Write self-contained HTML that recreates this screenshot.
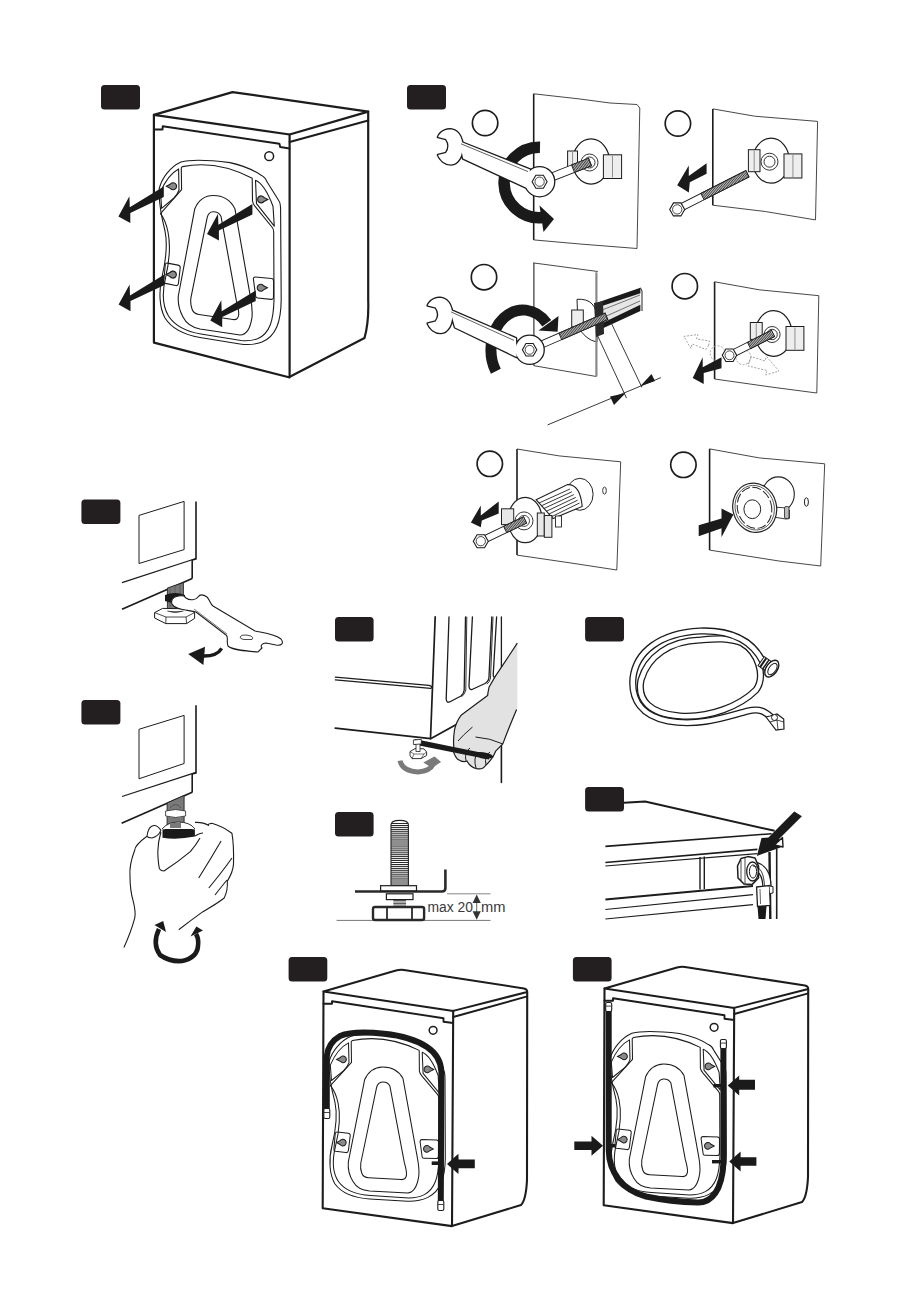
<!DOCTYPE html><html><head><meta charset="utf-8"><style>html,body{margin:0;padding:0;background:#fff;}svg{display:block}</style></head><body>
<svg width="907" height="1304" viewBox="0 0 907 1304" font-family="Liberation Sans, sans-serif">
<rect width="907" height="1304" fill="#fff"/>
<rect x="101" y="85" width="39" height="24.5" rx="3.5" fill="#231f20"/>
<g fill="none" stroke="#1c1c1c" stroke-linejoin="round" stroke-linecap="round"><path d="M153.9,114.9 L232.5,92.1 L368.2,111.6 L289.6,134.5 Z" stroke-width="2.2" fill="#fff"/><path d="M153.9,114.9 L153.9,342.6 L288.9,377.3 L364.5,338 Q369,322 368.2,300 L368.2,111.6" stroke-width="2.2"/><path d="M289.6,134.5 L289.6,377.3" stroke-width="2.2"/><path d="M153.9,129.4 L162.5,129.4 L162.8,126.2 L279.4,143.8 L280.2,147.1 L289.6,148.4" stroke-width="2"/><path d="M289.6,142 L368.2,120.5" stroke-width="2"/><circle cx="269.2" cy="156.2" r="4.4" stroke-width="1.5"/></g>
<g fill="none" stroke="#1c1c1c" stroke-linejoin="round">
<path d="M159.3,188.2 C162.0,178.0 170.0,167.0 181.0,162.0 C190.0,159.5 205.0,159.5 230.0,162.6 C245.0,166.0 255.0,171.0 261.1,175.2 C265.0,177.0 266.0,179.0 267.0,181.8 L279.0,201.0 C280.5,203.0 280.6,206.0 280.6,210.0 L281.2,299.4 C281.0,322.0 276.0,336.0 262.0,342.0 C254.0,345.0 247.0,345.0 240.0,344.0 L200.0,337.5 C183.0,334.5 172.0,329.0 165.0,318.0 C159.5,308.0 158.5,292.0 162.0,277.0 C166.0,260.0 168.0,246.0 165.0,231.0 C161.0,215.0 158.5,200.0 159.3,188.2 Z" stroke-width="1.10"/>
<path d="M182.4,166.6 C200.0,163.0 225.0,164.0 252.2,178.2 L252.5,201.0 C253.0,204.0 254.0,205.0 255.1,206.3 L272.3,227.5 C273.5,229.0 273.7,230.0 273.7,232.0 L274.0,300.0 C273.5,320.0 270.0,333.0 258.0,338.5 C252.0,341.0 246.0,341.0 241.0,340.5 L201.0,334.0 C186.0,331.5 175.0,326.0 168.5,316.0 C163.0,307.0 162.0,293.0 165.5,278.0 C169.5,261.0 171.0,247.0 168.0,232.0 C166.0,222.0 163.0,217.0 160.5,213.7 L181.6,189.7 L181.3,167.7 Z" stroke-width="1.10"/>
<path d="M178.6,168.9 L179.0,190.0 C178.0,193.0 176.0,196.0 174.0,198.0 L161.6,208.3 L160.5,192.0 C165.0,181.0 171.0,173.0 178.6,168.9 Z" stroke-width="1.10"/>
<path d="M255.5,180.2 C262.0,183.0 267.0,190.0 273.0,206.3 L274.3,226.2 L256.5,203.7 Z" stroke-width="1.10"/>
<path d="M167.4,263.1 L178.1,265.1 C179.8,265.4 180.4,266.5 180.2,268.0 L178.4,283.5 C178.1,285.2 177.0,285.8 175.8,285.5 L165.5,283.4 C164.2,283.1 163.8,282.0 163.9,281.0 L165.2,265.0 C165.4,263.5 166.2,262.9 167.4,263.1 Z" stroke-width="1.10"/>
<path d="M255.4,277.0 L271.5,278.5 C273.0,278.6 273.6,279.5 273.6,281.0 L273.5,297.0 C273.5,298.8 272.6,299.5 271.2,299.4 L257.6,298.0 C256.2,297.9 255.6,297.0 255.6,295.8 L253.4,279.2 C253.3,277.8 254.0,276.9 255.4,277.0 Z" stroke-width="1.10"/>
<path d="M194.8,208.7 C199.0,199.0 206.0,195.5 213.3,195.5 C221.0,195.5 230.0,199.0 234.9,208.7 L250.3,296.3 C252.0,305.0 252.5,313.0 251.9,317.9 C250.0,330.0 246.0,335.0 240.0,335.0 L200.0,329.0 C192.0,327.5 186.0,323.0 183.0,317.0 C178.5,309.0 177.8,303.0 178.3,296.0 Z" stroke-width="1.10"/>
<path d="M207.1,217.9 C208.0,213.5 210.5,211.7 213.3,211.7 C216.5,211.7 219.5,213.0 221.0,216.4 L236.4,300.9 C238.0,307.0 239.0,311.0 238.7,314.8 C238.3,318.5 236.5,320.0 233.0,319.5 L199.0,314.5 C195.0,314.0 193.0,312.0 192.0,309.0 C190.5,305.0 190.5,301.0 190.9,297.8 Z" stroke-width="1.10"/>
</g>
<path d="M166.4,186.3 L170.2,184.3 A3.50,3.50 0 1 1 170.2,188.3 Z" fill="#8a8a8a" stroke="#1c1c1c" stroke-width="1.10"/>
<path d="M267.8,199.4 L264.0,197.4 A3.50,3.50 0 1 0 264.0,201.4 Z" fill="#8a8a8a" stroke="#1c1c1c" stroke-width="1.10"/>
<path d="M166.2,274.6 L170.0,272.6 A3.50,3.50 0 1 1 170.0,276.6 Z" fill="#8a8a8a" stroke="#1c1c1c" stroke-width="1.10"/>
<path d="M267.4,287.8 L263.6,285.8 A3.50,3.50 0 1 0 263.6,289.8 Z" fill="#8a8a8a" stroke="#1c1c1c" stroke-width="1.10"/>
<polygon points="163.8,186.5 163.8,197.0 130.3,212.9 130.3,223.1 118.4,216.4 129.4,196.2 129.8,207.2" fill="#1a1a1a"/>
<polygon points="164.0,274.7 164.0,285.2 130.5,301.1 130.5,311.3 118.6,304.6 129.6,284.4 130.0,295.4" fill="#1a1a1a"/>
<polygon points="252.4,204.0 252.4,214.5 218.9,230.4 218.9,240.6 207.0,233.9 218.0,213.7 218.4,224.7" fill="#1a1a1a"/>
<polygon points="255.7,290.6 255.7,301.1 222.2,317.0 222.2,327.2 210.3,320.5 221.3,300.3 221.7,311.3" fill="#1a1a1a"/>
<rect x="407" y="85" width="39" height="24.5" rx="3.5" fill="#231f20"/>
<circle cx="485.1" cy="123" r="12.7" fill="none" stroke="#1c1c1c" stroke-width="1.7"/>
<path d="M533.7,93.8 L533.7,239.9" stroke="#1c1c1c" stroke-width="1.6" fill="none"/>
<path d="M533.7,93.8 L580,99 L610,103 L637,104.5 L639.8,108 L637,248.5" stroke="#333" stroke-width="0.9" fill="none" stroke-linejoin="round"/>
<path d="M533.7,239.9 L580,244 L637,248.5" stroke="#333" stroke-width="0.9" fill="none"/>
<path d="M540,147.25 A35.25,35.25 0 1 0 542.5,217.6" fill="none" stroke="#1a1a1a" stroke-width="11.5"/>
<polygon points="539.5,205.5 554.0,219.0 543.5,232.0" fill="#1a1a1a" />
<ellipse cx="591" cy="161.5" rx="18.5" ry="22.6" fill="#fff" stroke="#1c1c1c" stroke-width="1.2"/>
<circle cx="589.5" cy="162.5" r="8.5" fill="#fff" stroke="#1c1c1c" stroke-width="0.9"/>
<circle cx="589.5" cy="162.5" r="5.5" fill="#fff" stroke="#1c1c1c" stroke-width="0.9"/>
<rect x="567.6" y="151" width="9.899999999999977" height="16.5" fill="#eee" stroke="#1c1c1c" stroke-width="1"/>
<line x1="572.55" y1="152" x2="572.55" y2="166.5" stroke="#666" stroke-width="0.7"/>
<rect x="603.4" y="154.8" width="18.200000000000045" height="23.69999999999999" fill="#eee" stroke="#1c1c1c" stroke-width="1"/>
<line x1="612.5" y1="155.8" x2="612.5" y2="177.5" stroke="#666" stroke-width="0.7"/>
<g transform="translate(540,181.7) rotate(-21.50)"><rect x="0" y="-4.0" width="53.74095272694744" height="8" fill="#fff" stroke="#1c1c1c" stroke-width="0.9"/><rect x="35.5" y="-4.0" width="18.3" height="8" fill="#d8d8d8" stroke="#1c1c1c" stroke-width="0.9"/><line x1="36.2" y1="-4.0" x2="37.0" y2="4.0" stroke="#222" stroke-width="0.75"/><line x1="37.7" y1="-4.0" x2="38.5" y2="4.0" stroke="#222" stroke-width="0.75"/><line x1="39.2" y1="-4.0" x2="40.0" y2="4.0" stroke="#222" stroke-width="0.75"/><line x1="40.7" y1="-4.0" x2="41.5" y2="4.0" stroke="#222" stroke-width="0.75"/><line x1="42.2" y1="-4.0" x2="43.0" y2="4.0" stroke="#222" stroke-width="0.75"/><line x1="43.7" y1="-4.0" x2="44.5" y2="4.0" stroke="#222" stroke-width="0.75"/><line x1="45.2" y1="-4.0" x2="46.0" y2="4.0" stroke="#222" stroke-width="0.75"/><line x1="46.7" y1="-4.0" x2="47.5" y2="4.0" stroke="#222" stroke-width="0.75"/><line x1="48.2" y1="-4.0" x2="49.0" y2="4.0" stroke="#222" stroke-width="0.75"/><line x1="49.7" y1="-4.0" x2="50.5" y2="4.0" stroke="#222" stroke-width="0.75"/><line x1="51.2" y1="-4.0" x2="52.0" y2="4.0" stroke="#222" stroke-width="0.75"/><line x1="52.7" y1="-4.0" x2="53.5" y2="4.0" stroke="#222" stroke-width="0.75"/></g>
<path d="M438.00,137.00 C441.00,130.00 448.00,129.00 452.00,129.50 C460.00,131.00 463.00,141.00 462.50,147.00 C462.50,155.00 459.00,164.00 451.00,164.50 C445.00,164.50 440.00,160.00 438.00,155.00 L446.00,153.00 Q451.00,146.00 446.00,139.00 ZM460,141.6 L530,169.4 L528,188.5 L463,158.6 ZM525.1,181.7 A14.5,14.5 0 1 1 554.1,181.7 A14.5,14.5 0 1 1 525.1,181.7 Z" fill="none" stroke="#1c1c1c" stroke-width="2.6" stroke-linejoin="round"/><path d="M438.00,137.00 C441.00,130.00 448.00,129.00 452.00,129.50 C460.00,131.00 463.00,141.00 462.50,147.00 C462.50,155.00 459.00,164.00 451.00,164.50 C445.00,164.50 440.00,160.00 438.00,155.00 L446.00,153.00 Q451.00,146.00 446.00,139.00 Z" fill="#fff"/><path d="M460,141.6 L530,169.4 L528,188.5 L463,158.6 Z" fill="#fff"/><path d="M525.1,181.7 A14.5,14.5 0 1 1 554.1,181.7 A14.5,14.5 0 1 1 525.1,181.7 Z" fill="#fff"/><path d="M461.0,143.8 L528.0,171.6" stroke="#1c1c1c" stroke-width="0.7"/><polygon points="547.10,181.70 543.35,188.20 535.85,188.20 532.10,181.70 535.85,175.20 543.35,175.20" fill="#fff" stroke="#1c1c1c" stroke-width="1.1"/><circle cx="539.6" cy="181.7" r="4.65" fill="none" stroke="#1c1c1c" stroke-width="0.8"/>
<circle cx="677.9" cy="123.5" r="12.7" fill="none" stroke="#1c1c1c" stroke-width="1.7"/>
<path d="M712.8,108.9 L712.8,205.2" stroke="#1c1c1c" stroke-width="1.6" fill="none"/>
<path d="M712.8,108.9 L754.7,116.2 L817.6,121.4 L815.5,219.9" stroke="#333" stroke-width="0.9" fill="none" stroke-linejoin="round"/>
<path d="M712.8,205.2 L765.2,211.5 L815.5,219.9" stroke="#333" stroke-width="0.9" fill="none"/>
<ellipse cx="771" cy="160.7" rx="18.3" ry="22.5" fill="#fff" stroke="#1c1c1c" stroke-width="1.2"/>
<circle cx="769.5" cy="161.7" r="8.5" fill="#fff" stroke="#1c1c1c" stroke-width="0.9"/>
<circle cx="769.5" cy="161.7" r="5.5" fill="#fff" stroke="#1c1c1c" stroke-width="0.9"/>
<rect x="748.4" y="149.7" width="11.600000000000023" height="22.0" fill="#eee" stroke="#1c1c1c" stroke-width="1"/>
<line x1="754.2" y1="150.7" x2="754.2" y2="170.7" stroke="#666" stroke-width="0.7"/>
<rect x="784" y="153.9" width="17.899999999999977" height="24.099999999999994" fill="#eee" stroke="#1c1c1c" stroke-width="1"/>
<line x1="792.95" y1="154.9" x2="792.95" y2="177" stroke="#666" stroke-width="0.7"/>
<g transform="translate(677.2,209.4) rotate(-26.89)"><rect x="0" y="-3.5" width="78.71086329090788" height="7" fill="#fff" stroke="#1c1c1c" stroke-width="0.9"/><rect x="28.3" y="-3.5" width="50.4" height="7" fill="#d8d8d8" stroke="#1c1c1c" stroke-width="0.9"/><line x1="29.1" y1="-3.5" x2="29.9" y2="3.5" stroke="#222" stroke-width="0.75"/><line x1="30.6" y1="-3.5" x2="31.4" y2="3.5" stroke="#222" stroke-width="0.75"/><line x1="32.1" y1="-3.5" x2="32.9" y2="3.5" stroke="#222" stroke-width="0.75"/><line x1="33.6" y1="-3.5" x2="34.4" y2="3.5" stroke="#222" stroke-width="0.75"/><line x1="35.1" y1="-3.5" x2="35.9" y2="3.5" stroke="#222" stroke-width="0.75"/><line x1="36.6" y1="-3.5" x2="37.4" y2="3.5" stroke="#222" stroke-width="0.75"/><line x1="38.1" y1="-3.5" x2="38.9" y2="3.5" stroke="#222" stroke-width="0.75"/><line x1="39.6" y1="-3.5" x2="40.4" y2="3.5" stroke="#222" stroke-width="0.75"/><line x1="41.1" y1="-3.5" x2="41.9" y2="3.5" stroke="#222" stroke-width="0.75"/><line x1="42.6" y1="-3.5" x2="43.4" y2="3.5" stroke="#222" stroke-width="0.75"/><line x1="44.1" y1="-3.5" x2="44.9" y2="3.5" stroke="#222" stroke-width="0.75"/><line x1="45.6" y1="-3.5" x2="46.4" y2="3.5" stroke="#222" stroke-width="0.75"/><line x1="47.1" y1="-3.5" x2="47.9" y2="3.5" stroke="#222" stroke-width="0.75"/><line x1="48.6" y1="-3.5" x2="49.4" y2="3.5" stroke="#222" stroke-width="0.75"/><line x1="50.1" y1="-3.5" x2="50.9" y2="3.5" stroke="#222" stroke-width="0.75"/><line x1="51.6" y1="-3.5" x2="52.4" y2="3.5" stroke="#222" stroke-width="0.75"/><line x1="53.1" y1="-3.5" x2="53.9" y2="3.5" stroke="#222" stroke-width="0.75"/><line x1="54.6" y1="-3.5" x2="55.4" y2="3.5" stroke="#222" stroke-width="0.75"/><line x1="56.1" y1="-3.5" x2="56.9" y2="3.5" stroke="#222" stroke-width="0.75"/><line x1="57.6" y1="-3.5" x2="58.4" y2="3.5" stroke="#222" stroke-width="0.75"/><line x1="59.1" y1="-3.5" x2="59.9" y2="3.5" stroke="#222" stroke-width="0.75"/><line x1="60.6" y1="-3.5" x2="61.4" y2="3.5" stroke="#222" stroke-width="0.75"/><line x1="62.1" y1="-3.5" x2="62.9" y2="3.5" stroke="#222" stroke-width="0.75"/><line x1="63.6" y1="-3.5" x2="64.4" y2="3.5" stroke="#222" stroke-width="0.75"/><line x1="65.1" y1="-3.5" x2="65.9" y2="3.5" stroke="#222" stroke-width="0.75"/><line x1="66.6" y1="-3.5" x2="67.4" y2="3.5" stroke="#222" stroke-width="0.75"/><line x1="68.1" y1="-3.5" x2="68.9" y2="3.5" stroke="#222" stroke-width="0.75"/><line x1="69.6" y1="-3.5" x2="70.4" y2="3.5" stroke="#222" stroke-width="0.75"/><line x1="71.1" y1="-3.5" x2="71.9" y2="3.5" stroke="#222" stroke-width="0.75"/><line x1="72.6" y1="-3.5" x2="73.4" y2="3.5" stroke="#222" stroke-width="0.75"/><line x1="74.1" y1="-3.5" x2="74.9" y2="3.5" stroke="#222" stroke-width="0.75"/><line x1="75.6" y1="-3.5" x2="76.4" y2="3.5" stroke="#222" stroke-width="0.75"/><line x1="77.1" y1="-3.5" x2="77.9" y2="3.5" stroke="#222" stroke-width="0.75"/></g>
<polygon points="684.70,209.40 680.95,215.90 673.45,215.90 669.70,209.40 673.45,202.90 680.95,202.90" fill="#fff" stroke="#1c1c1c" stroke-width="1.1"/>
<circle cx="677.2" cy="209.4" r="4.65" fill="none" stroke="#1c1c1c" stroke-width="0.8"/>
<polygon points="706.6,163.3 706.6,173.8 689.8,182.2 688.8,192.6 677.2,185.3 688.8,165.4 688.8,175.9" fill="#1a1a1a" />
<circle cx="484" cy="277.2" r="12.7" fill="none" stroke="#1c1c1c" stroke-width="1.7"/>
<path d="M533.3,262.9 L597.8,271.5" stroke="#333" stroke-width="0.9" fill="none"/>
<path d="M533.9,262.9 L533.9,365.7" stroke="#222" stroke-width="1.1" fill="none"/>
<path d="M533.9,365.7 L596.4,376.5" stroke="#333" stroke-width="0.9" fill="none"/>
<path d="M577,299.3 Q597,298 597,320 L597,342 Q585,340 578,326 Z" fill="#fff" stroke="#222" stroke-width="1"/>
<rect x="571.7" y="310" width="11.6" height="17" fill="#eee" stroke="#222" stroke-width="1"/>
<path d="M596.4,272.3 L596.4,376.5" stroke="#888" stroke-width="2.2" fill="none"/>
<path d="M495.86,371.20 A32,40 0 0 1 546.78,323.23" fill="none" stroke="#1a1a1a" stroke-width="11"/>
<polygon points="538.5,330.5 557.6,331.7 558.5,316.0" fill="#1a1a1a" />
<polygon points="600.0,305.0 640.4,288.5 640.4,306.0 600.3,326.0" fill="#e6e6e6" />
<path d="M602,310 L640,295 M602,318 L640,301" stroke="#555" stroke-width="0.8"/>
<polygon points="600.5,301.5 640.4,287.7 640.4,293.2 600.5,306.5" fill="#1a1a1a" />
<polygon points="600.3,324.0 640.4,304.7 640.4,310.9 600.3,329.5" fill="#1a1a1a" />
<path d="M640.4,287.7 L642,291 L642,311" stroke="#222" stroke-width="1" fill="none"/>
<polygon points="594.0,303.0 603.0,301.0 604.0,334.0 596.0,337.0" fill="#2a2a2a" />
<g transform="translate(529.6,349.8) rotate(-23.57)"><rect x="0" y="-3.5" width="83.78836434732446" height="7" fill="#fff" stroke="#1c1c1c" stroke-width="0.9"/><rect x="33.5" y="-3.5" width="50.3" height="7" fill="#d8d8d8" stroke="#1c1c1c" stroke-width="0.9"/><line x1="34.3" y1="-3.5" x2="35.1" y2="3.5" stroke="#222" stroke-width="0.75"/><line x1="35.8" y1="-3.5" x2="36.6" y2="3.5" stroke="#222" stroke-width="0.75"/><line x1="37.3" y1="-3.5" x2="38.1" y2="3.5" stroke="#222" stroke-width="0.75"/><line x1="38.8" y1="-3.5" x2="39.6" y2="3.5" stroke="#222" stroke-width="0.75"/><line x1="40.3" y1="-3.5" x2="41.1" y2="3.5" stroke="#222" stroke-width="0.75"/><line x1="41.8" y1="-3.5" x2="42.6" y2="3.5" stroke="#222" stroke-width="0.75"/><line x1="43.3" y1="-3.5" x2="44.1" y2="3.5" stroke="#222" stroke-width="0.75"/><line x1="44.8" y1="-3.5" x2="45.6" y2="3.5" stroke="#222" stroke-width="0.75"/><line x1="46.3" y1="-3.5" x2="47.1" y2="3.5" stroke="#222" stroke-width="0.75"/><line x1="47.8" y1="-3.5" x2="48.6" y2="3.5" stroke="#222" stroke-width="0.75"/><line x1="49.3" y1="-3.5" x2="50.1" y2="3.5" stroke="#222" stroke-width="0.75"/><line x1="50.8" y1="-3.5" x2="51.6" y2="3.5" stroke="#222" stroke-width="0.75"/><line x1="52.3" y1="-3.5" x2="53.1" y2="3.5" stroke="#222" stroke-width="0.75"/><line x1="53.8" y1="-3.5" x2="54.6" y2="3.5" stroke="#222" stroke-width="0.75"/><line x1="55.3" y1="-3.5" x2="56.1" y2="3.5" stroke="#222" stroke-width="0.75"/><line x1="56.8" y1="-3.5" x2="57.6" y2="3.5" stroke="#222" stroke-width="0.75"/><line x1="58.3" y1="-3.5" x2="59.1" y2="3.5" stroke="#222" stroke-width="0.75"/><line x1="59.8" y1="-3.5" x2="60.6" y2="3.5" stroke="#222" stroke-width="0.75"/><line x1="61.3" y1="-3.5" x2="62.1" y2="3.5" stroke="#222" stroke-width="0.75"/><line x1="62.8" y1="-3.5" x2="63.6" y2="3.5" stroke="#222" stroke-width="0.75"/><line x1="64.3" y1="-3.5" x2="65.1" y2="3.5" stroke="#222" stroke-width="0.75"/><line x1="65.8" y1="-3.5" x2="66.6" y2="3.5" stroke="#222" stroke-width="0.75"/><line x1="67.3" y1="-3.5" x2="68.1" y2="3.5" stroke="#222" stroke-width="0.75"/><line x1="68.8" y1="-3.5" x2="69.6" y2="3.5" stroke="#222" stroke-width="0.75"/><line x1="70.3" y1="-3.5" x2="71.1" y2="3.5" stroke="#222" stroke-width="0.75"/><line x1="71.8" y1="-3.5" x2="72.6" y2="3.5" stroke="#222" stroke-width="0.75"/><line x1="73.3" y1="-3.5" x2="74.1" y2="3.5" stroke="#222" stroke-width="0.75"/><line x1="74.8" y1="-3.5" x2="75.6" y2="3.5" stroke="#222" stroke-width="0.75"/><line x1="76.3" y1="-3.5" x2="77.1" y2="3.5" stroke="#222" stroke-width="0.75"/><line x1="77.8" y1="-3.5" x2="78.6" y2="3.5" stroke="#222" stroke-width="0.75"/><line x1="79.3" y1="-3.5" x2="80.1" y2="3.5" stroke="#222" stroke-width="0.75"/><line x1="80.8" y1="-3.5" x2="81.6" y2="3.5" stroke="#222" stroke-width="0.75"/><line x1="82.3" y1="-3.5" x2="83.1" y2="3.5" stroke="#222" stroke-width="0.75"/></g>
<path d="M427.70,305.50 C430.70,298.50 437.70,297.50 441.70,298.00 C449.70,299.50 452.70,309.50 452.20,315.50 C452.20,323.50 448.70,332.50 440.70,333.00 C434.70,333.00 429.70,328.50 427.70,323.50 L435.70,321.50 Q440.70,314.50 435.70,307.50 ZM450,309.7 L516,338.2 L516.5,357 L455,327.4 ZM515.6,349.8 A14,14 0 1 1 543.6,349.8 A14,14 0 1 1 515.6,349.8 Z" fill="none" stroke="#1c1c1c" stroke-width="2.6" stroke-linejoin="round"/><path d="M427.70,305.50 C430.70,298.50 437.70,297.50 441.70,298.00 C449.70,299.50 452.70,309.50 452.20,315.50 C452.20,323.50 448.70,332.50 440.70,333.00 C434.70,333.00 429.70,328.50 427.70,323.50 L435.70,321.50 Q440.70,314.50 435.70,307.50 Z" fill="#fff"/><path d="M450,309.7 L516,338.2 L516.5,357 L455,327.4 Z" fill="#fff"/><path d="M515.6,349.8 A14,14 0 1 1 543.6,349.8 A14,14 0 1 1 515.6,349.8 Z" fill="#fff"/><path d="M451.0,311.9 L514.0,340.4" stroke="#1c1c1c" stroke-width="0.7"/><polygon points="536.80,349.80 533.20,356.04 526.00,356.04 522.40,349.80 526.00,343.56 533.20,343.56" fill="#fff" stroke="#1c1c1c" stroke-width="1.1"/><circle cx="529.6" cy="349.8" r="4.46" fill="none" stroke="#1c1c1c" stroke-width="0.8"/>
<path d="M597.2,334.8 L626.5,398.1 M611,322.5 L641.9,387.3 M547.6,424.9 L660.9,377.6" stroke="#222" stroke-width="0.9" fill="none"/>
<polygon points="610.0,396.5 625.5,393.3 614.0,405.0" fill="#1a1a1a" />
<polygon points="655.0,381.0 640.4,386.0 651.5,374.0" fill="#1a1a1a" />
<circle cx="684.8" cy="286.2" r="12.7" fill="none" stroke="#1c1c1c" stroke-width="1.7"/>
<path d="M714.6,281.8 L714.6,379" stroke="#1c1c1c" stroke-width="1.6" fill="none"/>
<path d="M714.6,281.8 L759.2,289.8 L818.8,295.7 L816.8,393" stroke="#333" stroke-width="0.9" fill="none" stroke-linejoin="round"/>
<path d="M714.6,379 L771,387 L816.8,393" stroke="#333" stroke-width="0.9" fill="none"/>
<ellipse cx="773.6" cy="333.5" rx="18.3" ry="22.8" fill="#fff" stroke="#1c1c1c" stroke-width="1.2"/>
<circle cx="772.1" cy="334.5" r="8" fill="#fff" stroke="#1c1c1c" stroke-width="0.9"/>
<circle cx="772.1" cy="334.5" r="5.2" fill="#fff" stroke="#1c1c1c" stroke-width="0.9"/>
<rect x="750.3" y="322.5" width="11.900000000000091" height="16.899999999999977" fill="#eee" stroke="#1c1c1c" stroke-width="1"/>
<line x1="756.25" y1="323.5" x2="756.25" y2="338.4" stroke="#666" stroke-width="0.7"/>
<rect x="786" y="326.5" width="17.899999999999977" height="23.80000000000001" fill="#eee" stroke="#1c1c1c" stroke-width="1"/>
<line x1="794.95" y1="327.5" x2="794.95" y2="349.3" stroke="#666" stroke-width="0.7"/>
<g fill="none" stroke="#999" stroke-width="0.9" stroke-dasharray="2,1.5"><polygon points="708.6,345.3 706,349.5 692,344 691,348.5 683.8,336.4 698,334.5 696.5,339 709.5,341"/><polygon points="749.3,361.2 751,356.5 765,361 766.5,356.5 779,371.1 765.5,375 767,370.5 748,366"/><circle cx="717.6" cy="353.3" r="7.5"/><circle cx="743.4" cy="357.2" r="7.5"/></g>
<g transform="translate(729.5,355.3) rotate(-26.72)"><rect x="0" y="-3.5" width="48.70174534860123" height="7" fill="#fff" stroke="#1c1c1c" stroke-width="0.9"/><rect x="21.9" y="-3.5" width="26.8" height="7" fill="#d8d8d8" stroke="#1c1c1c" stroke-width="0.9"/><line x1="22.7" y1="-3.5" x2="23.5" y2="3.5" stroke="#222" stroke-width="0.75"/><line x1="24.2" y1="-3.5" x2="25.0" y2="3.5" stroke="#222" stroke-width="0.75"/><line x1="25.7" y1="-3.5" x2="26.5" y2="3.5" stroke="#222" stroke-width="0.75"/><line x1="27.2" y1="-3.5" x2="28.0" y2="3.5" stroke="#222" stroke-width="0.75"/><line x1="28.7" y1="-3.5" x2="29.5" y2="3.5" stroke="#222" stroke-width="0.75"/><line x1="30.2" y1="-3.5" x2="31.0" y2="3.5" stroke="#222" stroke-width="0.75"/><line x1="31.7" y1="-3.5" x2="32.5" y2="3.5" stroke="#222" stroke-width="0.75"/><line x1="33.2" y1="-3.5" x2="34.0" y2="3.5" stroke="#222" stroke-width="0.75"/><line x1="34.7" y1="-3.5" x2="35.5" y2="3.5" stroke="#222" stroke-width="0.75"/><line x1="36.2" y1="-3.5" x2="37.0" y2="3.5" stroke="#222" stroke-width="0.75"/><line x1="37.7" y1="-3.5" x2="38.5" y2="3.5" stroke="#222" stroke-width="0.75"/><line x1="39.2" y1="-3.5" x2="40.0" y2="3.5" stroke="#222" stroke-width="0.75"/><line x1="40.7" y1="-3.5" x2="41.5" y2="3.5" stroke="#222" stroke-width="0.75"/><line x1="42.2" y1="-3.5" x2="43.0" y2="3.5" stroke="#222" stroke-width="0.75"/><line x1="43.7" y1="-3.5" x2="44.5" y2="3.5" stroke="#222" stroke-width="0.75"/><line x1="45.2" y1="-3.5" x2="46.0" y2="3.5" stroke="#222" stroke-width="0.75"/><line x1="46.7" y1="-3.5" x2="47.5" y2="3.5" stroke="#222" stroke-width="0.75"/></g>
<polygon points="736.70,355.30 733.10,361.54 725.90,361.54 722.30,355.30 725.90,349.06 733.10,349.06" fill="#fff" stroke="#1c1c1c" stroke-width="1.1"/>
<circle cx="729.5" cy="355.3" r="4.46" fill="none" stroke="#1c1c1c" stroke-width="0.8"/>
<polygon points="721.5,357.2 721.5,368.2 703.7,373.1 703.7,384.0 692.7,378.0 702.7,357.2 702.7,367.2" fill="#1a1a1a" />
<circle cx="489.8" cy="463.8" r="12.7" fill="none" stroke="#1c1c1c" stroke-width="1.7"/>
<path d="M517,449 L517,555.1" stroke="#1c1c1c" stroke-width="1.6" fill="none"/>
<path d="M517,449 L559.2,455.9 L620.7,461.8 L616.8,570" stroke="#333" stroke-width="0.9" fill="none" stroke-linejoin="round"/>
<path d="M517,555.1 L571,563 L616.8,570" stroke="#333" stroke-width="0.9" fill="none"/>
<ellipse cx="604.5" cy="490.6" rx="1.8" ry="3.6" fill="none" stroke="#222" stroke-width="0.9"/>
<ellipse cx="579.8" cy="494.3" rx="13.3" ry="16" fill="#fff" stroke="#222" stroke-width="1"/>
<path d="M536.1,499.7 L567.6,484.6 Q580,484 582.2,506.4 L553.1,518.5 Z" fill="#fff" stroke="#222" stroke-width="1.1"/>
<g stroke="#222" stroke-width="0.9"><line x1="539.0" y1="503.0" x2="570.0" y2="489.0"/><line x1="541.4" y1="505.8" x2="571.9" y2="491.8"/><line x1="543.8" y1="508.6" x2="573.8" y2="494.6"/><line x1="546.2" y1="511.4" x2="575.7" y2="497.4"/><line x1="548.6" y1="514.2" x2="577.6" y2="500.2"/><line x1="551.0" y1="517.0" x2="579.5" y2="503.0"/></g>
<ellipse cx="525.2" cy="520" rx="17" ry="22.7" fill="#fff" stroke="#222" stroke-width="1.2"/>
<rect x="555.5" y="516" width="6" height="11" fill="#fff" stroke="#222" stroke-width="0.9"/>
<rect x="537.3" y="513" width="7" height="23" fill="#e8e8e8" stroke="#222" stroke-width="1"/>
<rect x="544.3" y="515.5" width="7.6" height="21.8" fill="#e8e8e8" stroke="#222" stroke-width="1"/>
<rect x="501.5" y="508.8" width="12.2" height="15.8" fill="#e8e8e8" stroke="#222" stroke-width="1"/>
<circle cx="524" cy="520.9" r="9" fill="#fff" stroke="#222" stroke-width="0.9"/>
<circle cx="524" cy="520.9" r="5.5" fill="#fff" stroke="#222" stroke-width="0.8"/>
<g transform="translate(480.8,541.2) rotate(-25.62)"><rect x="0" y="-3.5" width="49.02121989506178" height="7" fill="#fff" stroke="#1c1c1c" stroke-width="0.9"/><rect x="27.0" y="-3.5" width="22.1" height="7" fill="#d8d8d8" stroke="#1c1c1c" stroke-width="0.9"/><line x1="27.7" y1="-3.5" x2="28.5" y2="3.5" stroke="#222" stroke-width="0.75"/><line x1="29.2" y1="-3.5" x2="30.0" y2="3.5" stroke="#222" stroke-width="0.75"/><line x1="30.7" y1="-3.5" x2="31.5" y2="3.5" stroke="#222" stroke-width="0.75"/><line x1="32.2" y1="-3.5" x2="33.0" y2="3.5" stroke="#222" stroke-width="0.75"/><line x1="33.7" y1="-3.5" x2="34.5" y2="3.5" stroke="#222" stroke-width="0.75"/><line x1="35.2" y1="-3.5" x2="36.0" y2="3.5" stroke="#222" stroke-width="0.75"/><line x1="36.7" y1="-3.5" x2="37.5" y2="3.5" stroke="#222" stroke-width="0.75"/><line x1="38.2" y1="-3.5" x2="39.0" y2="3.5" stroke="#222" stroke-width="0.75"/><line x1="39.7" y1="-3.5" x2="40.5" y2="3.5" stroke="#222" stroke-width="0.75"/><line x1="41.2" y1="-3.5" x2="42.0" y2="3.5" stroke="#222" stroke-width="0.75"/><line x1="42.7" y1="-3.5" x2="43.5" y2="3.5" stroke="#222" stroke-width="0.75"/><line x1="44.2" y1="-3.5" x2="45.0" y2="3.5" stroke="#222" stroke-width="0.75"/><line x1="45.7" y1="-3.5" x2="46.5" y2="3.5" stroke="#222" stroke-width="0.75"/><line x1="47.2" y1="-3.5" x2="48.0" y2="3.5" stroke="#222" stroke-width="0.75"/></g>
<polygon points="488.30,541.20 484.55,547.70 477.05,547.70 473.30,541.20 477.05,534.70 484.55,534.70" fill="#fff" stroke="#1c1c1c" stroke-width="1.1"/>
<circle cx="480.8" cy="541.2" r="4.65" fill="none" stroke="#1c1c1c" stroke-width="0.8"/>
<polygon points="498.7,501.5 498.7,513.4 481.8,520.4 480.8,527.3 470.9,522.4 480.8,505.5 480.8,515.4" fill="#1a1a1a" />
<circle cx="683.4" cy="464.8" r="12.7" fill="none" stroke="#1c1c1c" stroke-width="1.7"/>
<path d="M709.6,448.9 L709.6,550.1" stroke="#1c1c1c" stroke-width="1.6" fill="none"/>
<path d="M709.6,448.9 L759.2,457.9 L824.7,463.8 L820.7,566" stroke="#333" stroke-width="0.9" fill="none" stroke-linejoin="round"/>
<path d="M709.6,550.1 L779,561 L820.7,566" stroke="#333" stroke-width="0.9" fill="none"/>
<ellipse cx="806.4" cy="502" rx="2" ry="4.3" fill="none" stroke="#222" stroke-width="1"/>
<ellipse cx="778.3" cy="494.3" rx="16" ry="17.4" fill="#fff" stroke="#222" stroke-width="1.1"/>
<path d="M770,506.7 L786,508 L789.4,510 L789.4,518.6 L786,519 L770,516.5 Z" fill="#fff" stroke="#222" stroke-width="0.9"/>
<rect x="784.5" y="506.5" width="4.5" height="12" rx="1.5" fill="#bbb" stroke="#222" stroke-width="0.8"/>
<ellipse cx="754.7" cy="507.7" rx="21.8" ry="24.8" fill="#fff" stroke="#222" stroke-width="1.2" transform="rotate(-15 754.7 507.7)"/>
<ellipse cx="754.7" cy="507.7" rx="19.5" ry="22.5" fill="none" stroke="#444" stroke-width="0.8" transform="rotate(-15 754.7 507.7)"/>
<ellipse cx="754.5" cy="507.8" rx="17" ry="20.8" fill="none" stroke="#222" stroke-width="1" stroke-dasharray="9,2.5" transform="rotate(-15 754.5 507.8)"/>
<ellipse cx="752.3" cy="509.2" rx="8.4" ry="9.4" fill="#fff" stroke="#222" stroke-width="1"/>
<polygon points="698.7,525.3 698.7,536.2 721.5,528.3 721.5,537.2 733.4,514.4 721.5,508.5 721.5,518.4" fill="#1a1a1a" />
<rect x="81.4" y="499.6" width="39" height="24.5" rx="3.5" fill="#231f20"/>
<g fill="none" stroke="#1c1c1c" stroke-linejoin="round"><path d="M196,501.4 L196,559 L192.2,560 L192.2,578.5" stroke-width="1.6"/><path d="M122,582.6 L196,558.5" stroke-width="1.3"/><path d="M122,609.2 L192.2,578.5" stroke-width="1.8"/><polygon points="139,515.4 184.1,501.4 184.1,549.6 139,563.5" stroke-width="1"/></g>
<path d="M167.4,588 L183.4,582.6 L183.4,611.6 Q175,614 167.4,611.6 Z" fill="#7a7a7a" stroke="#222" stroke-width="0.9"/>
<g stroke="#555" stroke-width="0.7"><line x1="170" y1="588" x2="170" y2="609"/><line x1="175" y1="586" x2="175" y2="610"/><line x1="180" y1="584" x2="180" y2="609"/></g>
<path d="M154.6,612.6 L162.6,608.4 L188.2,608.8 L194.6,612.6 L194.6,618.4 L186.6,623.6 L165.8,623.6 L154.6,618 Z" fill="#fff" stroke="#1c1c1c" stroke-width="1"/>
<path d="M154.6,612.6 L166,617 L186,617 L194.6,612.6 M166,617 L165.8,623.6 M186,617 L186.6,623.6" fill="none" stroke="#1c1c1c" stroke-width="0.8"/>
<path d="M167.4,611 Q175,614 183.4,611" fill="#7a7a7a" stroke="#222" stroke-width="0.8"/>
<path d="M165,595 Q175,591 185,595 L185,601 Q175,605 165,601 Z" fill="#1a1a1a"/>
<path d="M172,604 C170,598 176,595 184,596 L186,598 C190,601 196,600 198,597 C200,594 204,595 207,597 C210,600 210,604 213,606 L255,631 C265,633 275,634 281,639 C284,643 282,646 276,645 L266,643 C262,643 260,646 262,648 L258,652 C245,651 232,650 228,646 C226,641 229,637 226,635 L196,612 C188,610 175,610 172,604 Z" fill="#fff" stroke="#1c1c1c" stroke-width="1.1"/>
<path d="M194,609 L227,634" stroke="#1c1c1c" stroke-width="0.6" fill="none"/>
<path d="M240,637 Q241,634.5 246,635 L251,636 Q254,637.5 252,639.5 L244,639.5 Q240,639 240,637 Z" fill="#fff" stroke="#1c1c1c" stroke-width="0.8"/>
<path d="M221.7,648.3 Q217,656 204,656" fill="none" stroke="#1a1a1a" stroke-width="3.4"/>
<polygon points="188.2,653.9 205.0,646.7 203.4,665.0" fill="#1a1a1a" />
<rect x="81.4" y="700.1" width="39" height="24.5" rx="3.5" fill="#231f20"/>
<g fill="none" stroke="#1c1c1c" stroke-linejoin="round"><path d="M196,705.2 L196,773 L192.2,774 L192.2,792.5" stroke-width="1.6"/><path d="M122,796.5 L196,772.4" stroke-width="1.3"/><path d="M121.6,823.2 L192.2,792.3" stroke-width="1.8"/><polygon points="139,729.3 184.1,715.4 184.1,763.5 139,778.8" stroke-width="1"/></g>
<path d="M167.1,803 L184.1,795.5 L184.1,828 L167.1,828 Z" fill="#7a7a7a" stroke="#222" stroke-width="0.9"/>
<g stroke="#444" stroke-width="0.7" fill="none"><path d="M170,808 Q175.5,801 181,808"/><path d="M170,826 Q175.5,819 181,826"/></g>
<path d="M165.6,811 Q175.6,808 185.6,811 L185.6,816 Q175.6,819 165.6,816 Z" fill="#fff" stroke="#222" stroke-width="0.8"/>
<path d="M147,836.3 Q135,845 134.7,850.2 Q129,865 130,876.4 Q130,890 133.2,901.1 Q136,912 134.7,918.1 Q131,932 123.9,947.4" fill="none" stroke="#1c1c1c" stroke-width="1.1"/>
<path d="M178.7,929.7 Q190,921 202.6,911.9 Q218,903 224.2,898 Q228,890 227.3,881.1 Q233,872 233.5,864.1 Q234,845 231.9,833.2 Q222,826 211.9,823.2 Q207,824 208.8,825.5" fill="none" stroke="#1c1c1c" stroke-width="1.1"/>
<path d="M162.5,829.4 Q178,826 194.9,829.4 L194.9,836.5 Q178,840 162.5,837.8 Z" fill="#1a1a1a"/>
<path d="M162,829 Q168,822 178,822 Q190,822 195,829" fill="#fff" stroke="#1c1c1c" stroke-width="0.9"/>
<rect x="170" y="823" width="11" height="5" fill="#7a7a7a"/>
<g fill="none" stroke="#1c1c1c" stroke-width="1.1" stroke-linejoin="round"><path d="M147,836.3 Q148,828 151.7,826.3 Q156,823.5 160.9,830.1 Q159,836 152,838 Q148,838 147,836.3"/><path d="M160.9,832 Q158,842 157.8,851.7 Q158,862 159.4,868.7 Q161,871 164,871 Q178,862 190.3,851.7 Q196,845 200,838"/><path d="M194.9,836 Q200,833 203,833 M195,822.4 Q203,822 208.8,825.5"/><path d="M198.7,878 Q210,860 221.1,841"/><path d="M208.8,888 Q222,872 232,858"/><path d="M215,895 Q222,886 227,880"/></g>
<path d="M159,929 Q152,944 160,955 Q170,962 182,961 Q197,958 198,946 Q199,939 196,934" fill="none" stroke="#1a1a1a" stroke-width="4.6"/>
<polygon points="163.2,921.0 154.5,925.0 166.0,932.0" fill="#1a1a1a" />
<polygon points="203.0,930.5 190.5,936.5 196.4,926.5" fill="#1a1a1a" />
<rect x="335" y="617" width="38.6" height="24.6" rx="3.5" fill="#231f20"/>
<g fill="none" stroke="#1c1c1c" stroke-linejoin="round" stroke-linecap="round"><path d="M335.3,677.2 L429,685.3 Q432,686 431.9,687.4 L430.6,688.4 L335.3,679.8" stroke-width="1.2"/><path d="M435.2,616.9 L430.5,738.6" stroke-width="1.7"/><path d="M335.3,728.1 L430.6,738.7 L458.6,723.2" stroke-width="1.8"/><path d="M449,617 L446.2,699 Q446.5,702.8 449.5,702 L461,696 Q464.2,693 464.2,690 L465.5,617" stroke-width="1.3"/><path d="M466.8,617 L465.8,690 Q465,694 462,696.5" stroke-width="0.9"/><path d="M472.4,617 L469,686 Q469.2,690 472,689.5 L485,683.5 Q489,681 489,677 L491.8,617" stroke-width="1.3"/><path d="M493,617 L490.5,678 Q490,682 487,684" stroke-width="0.9"/><path d="M496.6,617 L493.2,675 Q493.5,678.5 496,676.5 L501.4,668 L501.4,617" stroke-width="1.3"/><path d="M501.4,743.9 L501.4,782.5" stroke-width="1.6"/></g>
<path d="M517.3,643.1 L502.8,665.2 Q495,676 489,687.3 Q488,692 487.6,695.6 Q475,705 461.4,714.9 Q456,722 454.5,730 Q453,740 453.8,746.6 Q452,752 457.3,759 Q463,763 467,761 Q470,767 476.6,768.7 Q483,770 486,765 Q492,760 495.9,750.8 L502.8,743.9 Q510,725 516.6,709.4 L517.3,709.4 Z" fill="#e2e2e2"/>
<path d="M517.3,643.1 L502.8,665.2 Q495,676 489,687.3 Q488,692 487.6,695.6 Q475,705 461.4,714.9 Q456,722 454.5,730 Q453,740 453.8,746.6 Q452,752 457.3,759 Q463,763 467,761 Q470,767 476.6,768.7 Q483,770 486,765 Q492,760 495.9,750.8 L502.8,743.9 Q510,725 516.6,709.4" fill="none" stroke="#1c1c1c" stroke-width="1.2" stroke-linejoin="round"/>
<g fill="none" stroke="#1c1c1c" stroke-width="1"><path d="M458,741 Q463,735 472.5,727"/><path d="M475.5,737 Q490,738 503,744"/><path d="M466,761 Q464,752 470,748 M476,768 Q473,758 478,752 M486,765 Q484,756 490,752"/></g>
<path d="M414.7,739 L490.4,754.5 L489,759.5 L414,744.5 Z" fill="#1a1a1a"/>
<path d="M478,752 Q490,752 494,757 Q488,760 480,758 Z" fill="#1a1a1a"/>
<path d="M410,751.6 L415,748.6 L424,748.8 L426.6,752 L426.6,755.5 L421,758.6 L412,758.6 L410,755.5 Z" fill="#fff" stroke="#1c1c1c" stroke-width="0.9"/>
<path d="M410,751.6 L414,754 L424,754 L426.6,752 M414,754 L412,758.6 M424,754 L421,758.6" fill="none" stroke="#1c1c1c" stroke-width="0.6"/>
<rect x="416" y="743.4" width="4" height="8" fill="#fff" stroke="#1c1c1c" stroke-width="0.8"/>
<path d="M413.4,740 L421.3,739.4 L421.3,744 L413.4,744.5 Z" fill="#fff" stroke="#1c1c1c" stroke-width="0.8"/>
<path d="M400.1,760.6 Q402,771 418,772 Q430,771 433,764.5" fill="none" stroke="#7a7a7a" stroke-width="5"/>
<polygon points="423.3,762.5 434.5,756.5 441.1,761.9 432.0,768.0" fill="#7a7a7a" />
<rect x="585.1" y="616.9" width="38.9" height="24.6" rx="3.5" fill="#231f20"/>
<path d="M700,640 C670,641 648,656 641,680 C637,700 650,714 680,716 C710,718 740,706 756,690 C766,676 758,652 742,643 C728,637 712,639 700,640 Z" fill="none" stroke="#1c1c1c" stroke-width="7.2" stroke-linejoin="round"/>
<path d="M700,640 C670,641 648,656 641,680 C637,700 650,714 680,716 C710,718 740,706 756,690 C766,676 758,652 742,643 C728,637 712,639 700,640 Z" fill="none" stroke="#fff" stroke-width="4.6" stroke-linejoin="round"/>
<path d="M763,662 C752,640 730,630 700,631 C660,633 636,652 633,678 C631,700 642,716 668,721 C700,727 728,716 748,711 C760,708 766,712 772,718" fill="none" stroke="#1c1c1c" stroke-width="7.2" stroke-linejoin="round"/>
<path d="M763,662 C752,640 730,630 700,631 C660,633 636,652 633,678 C631,700 642,716 668,721 C700,727 728,716 748,711 C760,708 766,712 772,718" fill="none" stroke="#fff" stroke-width="4.6" stroke-linejoin="round"/>
<g transform="translate(771.8,668.6) rotate(35)"><rect x="-13" y="-5.5" width="8" height="11" fill="#fff" stroke="#1c1c1c" stroke-width="1"/><rect x="-11.5" y="-5.5" width="2" height="11" fill="#1c1c1c"/><rect x="-8" y="-5.5" width="1.5" height="11" fill="#1c1c1c"/><ellipse cx="0" cy="0" rx="5.5" ry="9.5" fill="#fff" stroke="#1c1c1c" stroke-width="1.4"/><ellipse cx="0.8" cy="0" rx="3.5" ry="6.5" fill="none" stroke="#1c1c1c" stroke-width="1"/></g>
<path d="M766,717 L776,730 L784,729 L783.7,719 L777,714 L770,716 Z" fill="#fff" stroke="#1c1c1c" stroke-width="1.2"/>
<path d="M770,722 L777,720 L783.7,722 M777,720 L778,730" fill="none" stroke="#1c1c1c" stroke-width="0.8"/>
<circle cx="774.5" cy="717.5" r="3" fill="#fff" stroke="#1c1c1c" stroke-width="1"/>
<rect x="335" y="812" width="38.6" height="24.6" rx="3.5" fill="#231f20"/>
<g stroke="#1c1c1c" fill="none"><path d="M355,891.5 L442,891.5 Q445.4,891.5 445.4,888 L445.4,869.5" stroke-width="2.6" stroke="#2a2a2a"/><path d="M336.6,920.4 L490.5,920.4" stroke-width="1" stroke="#777"/><path d="M447,893.8 L490.5,893.8" stroke-width="1" stroke="#888"/></g>
<path d="M391,885.7 L391,825 Q391,820.4 399.7,820.4 Q408.4,820.4 408.4,825 L408.4,885.7 Z" fill="#fff" stroke="#222" stroke-width="1.1"/>
<g stroke="#2a2a2a" stroke-width="1.05"><line x1="391" y1="823.5" x2="408.4" y2="823.5"/><line x1="391" y1="825.5" x2="408.4" y2="825.5"/><line x1="391" y1="827.4" x2="408.4" y2="827.4"/><line x1="391" y1="829.4" x2="408.4" y2="829.4"/><line x1="391" y1="831.3" x2="408.4" y2="831.3"/><line x1="391" y1="833.2" x2="408.4" y2="833.2"/><line x1="391" y1="835.2" x2="408.4" y2="835.2"/><line x1="391" y1="837.1" x2="408.4" y2="837.1"/><line x1="391" y1="839.1" x2="408.4" y2="839.1"/><line x1="391" y1="841.0" x2="408.4" y2="841.0"/><line x1="391" y1="843.0" x2="408.4" y2="843.0"/><line x1="391" y1="845.0" x2="408.4" y2="845.0"/><line x1="391" y1="846.9" x2="408.4" y2="846.9"/><line x1="391" y1="848.9" x2="408.4" y2="848.9"/><line x1="391" y1="850.8" x2="408.4" y2="850.8"/><line x1="391" y1="852.8" x2="408.4" y2="852.8"/><line x1="391" y1="854.7" x2="408.4" y2="854.7"/><line x1="391" y1="856.6" x2="408.4" y2="856.6"/><line x1="391" y1="858.6" x2="408.4" y2="858.6"/><line x1="391" y1="860.5" x2="408.4" y2="860.5"/><line x1="391" y1="862.5" x2="408.4" y2="862.5"/><line x1="391" y1="864.5" x2="408.4" y2="864.5"/><line x1="391" y1="866.4" x2="408.4" y2="866.4"/><line x1="391" y1="868.4" x2="408.4" y2="868.4"/><line x1="391" y1="870.3" x2="408.4" y2="870.3"/><line x1="391" y1="872.2" x2="408.4" y2="872.2"/><line x1="391" y1="874.2" x2="408.4" y2="874.2"/><line x1="391" y1="876.1" x2="408.4" y2="876.1"/><line x1="391" y1="878.1" x2="408.4" y2="878.1"/><line x1="391" y1="880.0" x2="408.4" y2="880.0"/><line x1="391" y1="882.0" x2="408.4" y2="882.0"/><line x1="391" y1="884.0" x2="408.4" y2="884.0"/></g>
<rect x="380.6" y="885.7" width="35.9" height="5.1" fill="#fff" stroke="#1c1c1c" stroke-width="1.2"/>
<rect x="386.4" y="893.8" width="26.6" height="5.8" fill="#fff" stroke="#1c1c1c" stroke-width="1.2"/>
<g stroke="#333" stroke-width="0.8"><line x1="393.3" y1="900.5" x2="406" y2="900.5"/><line x1="393.3" y1="902.0" x2="406" y2="902.0"/><line x1="393.3" y1="903.5" x2="406" y2="903.5"/><line x1="393.3" y1="905.0" x2="406" y2="905.0"/></g>
<rect x="373" y="907" width="51.1" height="13" rx="2" fill="#fff" stroke="#2a2a2a" stroke-width="2.4"/>
<path d="M387,906.5 L387,920.4 M412,906.5 L412,920.4" stroke="#2a2a2a" stroke-width="1.8"/>
<path d="M476.7,897 L476.7,917" stroke="#555" stroke-width="0.9"/>
<polygon points="476.7,894.5 472.6,903.0 480.8,903.0" fill="#333" />
<polygon points="476.7,919.8 472.6,911.3 480.8,911.3" fill="#333" />
<text x="427.5" y="912" font-size="14" fill="#3a3a3a" textLength="45.5" lengthAdjust="spacingAndGlyphs">max 20</text>
<text x="481" y="912" font-size="14" fill="#3a3a3a" textLength="24.5" lengthAdjust="spacingAndGlyphs">mm</text>
<rect x="585.1" y="786.9" width="38.9" height="24.6" rx="3.5" fill="#231f20"/>
<g stroke="#1c1c1c" fill="none" stroke-linejoin="round"><path d="M624,802.8 L645.1,801.5 L774.6,830.8" stroke-width="2"/><path d="M605.4,846.4 L771.7,833.7" stroke-width="1.6"/><path d="M605.4,862.5 L757.4,849.4" stroke-width="1.6"/><path d="M605.4,866 L757.4,853.7" stroke-width="1.2"/><path d="M700,857 L700,889.6 M704.3,856.6 L704.3,889" stroke-width="1.4"/><path d="M605.4,899.5 L753,886" stroke-width="2"/><path d="M605.4,909.5 L753,894.6" stroke-width="1.2"/><path d="M605.4,919 L753,904.6" stroke-width="1.2"/><path d="M769.5,852 L770.3,919" stroke-width="2.4"/><path d="M776.7,848.7 L776.7,919" stroke-width="1.6"/></g>
<path d="M757.5,906 L766.5,906 L765.5,919 L758.5,919 Z" fill="#1a1a1a"/>
<path d="M751,866 C762,866 767,874 767,888" fill="none" stroke="#1c1c1c" stroke-width="9.5"/>
<path d="M751,866 C762,866 767,874 767,888" fill="none" stroke="#fff" stroke-width="7"/>
<path d="M737.5,866 L741,858.5 L748,856.6 L755,858 L758.5,866 L758.5,878 L752,884.6 L744,884 L738,878 Z" fill="#fff" stroke="#1c1c1c" stroke-width="1.5" stroke-linejoin="round"/>
<path d="M741,860 L741,881 M745,857.5 L745,884" stroke="#1c1c1c" stroke-width="0.8"/>
<ellipse cx="752.5" cy="871.5" rx="5.8" ry="9.5" fill="#fff" stroke="#1c1c1c" stroke-width="1.3"/>
<ellipse cx="753" cy="871.5" rx="3.6" ry="6.6" fill="#fff" stroke="#1c1c1c" stroke-width="1"/>
<path d="M753,866 C761,866.5 764,874 764.5,887" fill="none" stroke="#1c1c1c" stroke-width="0.9"/>
<path d="M756.6,887 L769.5,885.5 L770.3,905.5 L757.5,906.5 Z" fill="#fff" stroke="#1c1c1c" stroke-width="1.3"/>
<path d="M769.5,886 L773,886.5 L773,893 L770,893.5" fill="#fff" stroke="#1c1c1c" stroke-width="1"/>
<path d="M760,889 L760.5,904" stroke="#1c1c1c" stroke-width="0.7"/>
<polygon points="794.3,811.6 801.9,816.2 779.5,838.6 780.5,847.5 756.9,855.9 761.5,838.1 768.5,837.4" fill="#1a1a1a" />
<path d="M774.5,845 L782.5,837.5 L783,847 Z" fill="#fff" stroke="#1c1c1c" stroke-width="1.4" stroke-linejoin="round"/>
<g id="m9"><g fill="none" stroke="#1c1c1c" stroke-linejoin="round" stroke-linecap="round"><path d="M323.5,991.5 L396,970.5 Q400,969.5 404,970 L524,988.5 Q527.2,989.1 527.2,992 L453.2,1010.9 Z" stroke-width="2" fill="#fff"/><path d="M323.5,991.5 L322.7,1208.3 L452,1226.1 L521,1205 Q526,1200 527,1180 L527.2,992" stroke-width="2.1"/><path d="M453.2,1010.9 L452,1226.1" stroke-width="2.1"/><path d="M323.5,1003.7 L332,1003.7 L332,1001.2 L443.5,1018.2 L443.5,1021.8 L453.2,1023" stroke-width="1.9"/><path d="M453.2,1017 L527.2,996.4" stroke-width="1.9"/><circle cx="433.1" cy="1030.3" r="3.9" stroke-width="1.5"/></g>
<g fill="none" stroke="#1c1c1c" stroke-linejoin="round">
<path d="M329.1,1061.5 C331.8,1051.7 339.9,1041.2 350.9,1036.3 C359.8,1033.9 374.5,1033.8 398.5,1036.5 C412.5,1039.4 421.8,1043.9 427.4,1047.6 C430.9,1049.1 431.8,1050.9 432.8,1053.4 L443.6,1070.4 C444.9,1072.1 445.0,1074.8 445.0,1078.4 L445.3,1157.9 C445.1,1178.0 440.6,1190.8 427.9,1197.4 C420.6,1200.8 414.2,1201.4 407.7,1201.2 L369.6,1199.0 C353.0,1197.8 342.1,1193.7 335.0,1184.0 C329.5,1175.0 328.4,1160.0 332.0,1145.5 C336.0,1129.2 338.0,1115.9 334.9,1101.9 C330.9,1086.9 328.3,1072.7 329.1,1061.5 Z" stroke-width="1.04"/>
<path d="M352.3,1040.6 C369.6,1037.1 393.7,1037.8 419.2,1050.4 L419.4,1071.1 C419.9,1073.8 420.8,1074.7 421.8,1075.8 L437.5,1094.3 C438.6,1095.6 438.7,1096.5 438.7,1098.3 L438.9,1158.9 C438.4,1176.8 435.2,1188.6 424.3,1194.6 C418.8,1197.4 413.2,1197.9 408.6,1197.9 L370.6,1195.6 C356.0,1194.7 345.1,1190.6 338.6,1181.8 C333.0,1173.8 332.0,1160.6 335.5,1146.2 C339.5,1130.0 341.0,1116.7 338.0,1102.7 C335.9,1093.3 332.9,1088.7 330.4,1085.7 L351.5,1062.4 L351.2,1041.7 Z" stroke-width="1.04"/>
<path d="M348.5,1042.9 L349.0,1062.7 C348.0,1065.6 346.0,1068.4 344.0,1070.4 L331.5,1080.5 L330.3,1065.1 C334.9,1054.5 340.9,1046.8 348.5,1042.9 Z" stroke-width="1.04"/>
<path d="M422.2,1052.2 C428.2,1054.6 432.7,1060.8 438.1,1075.3 L439.3,1093.1 L423.1,1073.4 Z" stroke-width="1.04"/>
<path d="M337.4,1132.1 L348.1,1133.3 C349.8,1133.5 350.4,1134.5 350.2,1135.9 L348.4,1150.5 C348.1,1152.1 347.0,1152.8 345.8,1152.6 L335.5,1151.3 C334.2,1151.1 333.8,1150.1 333.9,1149.2 L335.2,1134.0 C335.4,1132.6 336.2,1131.9 337.4,1132.1 Z" stroke-width="1.04"/>
<path d="M422.0,1139.6 L436.6,1139.9 C438.0,1139.9 438.5,1140.7 438.5,1142.0 L438.4,1156.3 C438.4,1157.9 437.6,1158.6 436.3,1158.6 L424.0,1158.3 C422.7,1158.3 422.1,1157.5 422.1,1156.5 L420.1,1141.7 C420.1,1140.4 420.7,1139.6 422.0,1139.6 Z" stroke-width="1.04"/>
<path d="M364.6,1079.8 C368.7,1070.7 375.5,1067.2 382.5,1067.0 C389.9,1066.9 398.4,1069.8 403.0,1078.6 L417.3,1157.3 C418.8,1165.0 419.3,1172.2 418.7,1176.6 C416.9,1187.7 413.2,1192.5 407.7,1193.0 L369.6,1191.1 C361.8,1190.4 356.0,1186.8 353.0,1181.5 C348.5,1174.4 347.8,1168.8 348.3,1162.2 Z" stroke-width="1.04"/>
<path d="M376.5,1087.9 C377.4,1083.8 379.8,1082.1 382.5,1082.0 C385.6,1081.9 388.4,1083.0 389.9,1086.1 L404.3,1162.4 C405.8,1167.9 406.8,1171.4 406.5,1174.9 C406.1,1178.3 404.4,1179.8 401.1,1179.6 L368.7,1177.8 C364.8,1177.7 362.8,1176.0 361.8,1173.3 C360.4,1169.7 360.4,1166.0 360.8,1163.0 Z" stroke-width="1.04"/>
</g>
<path d="M336.6,1059.4 L340.3,1057.5 A3.32,3.32 0 1 1 340.3,1061.3 Z" fill="#8a8a8a" stroke="#1c1c1c" stroke-width="1.04"/>
<path d="M433.7,1069.4 L430.1,1067.5 A3.32,3.32 0 1 0 430.1,1071.3 Z" fill="#8a8a8a" stroke="#1c1c1c" stroke-width="1.04"/>
<path d="M336.5,1142.6 L340.1,1140.7 A3.32,3.32 0 1 1 340.1,1144.5 Z" fill="#8a8a8a" stroke="#1c1c1c" stroke-width="1.04"/>
<path d="M433.2,1148.9 L429.6,1147.0 A3.32,3.32 0 1 0 429.6,1150.8 Z" fill="#8a8a8a" stroke="#1c1c1c" stroke-width="1.04"/></g>
<use href="#m9" transform="translate(281,-3)"/>
<rect x="288.6" y="957" width="38.7" height="24.4" rx="3.5" fill="#231f20"/>
<rect x="572.9" y="957" width="38.7" height="24.4" rx="3.5" fill="#231f20"/>
<path d="M326.8,1109 L326.8,1056 C328,1046 333,1040 340,1036 C350,1032 362,1031.5 384,1033.8 C400,1035.5 415,1039 427,1047 C436,1053 441,1062 441.4,1071.7 L440.8,1201" fill="none" stroke="#1a1a1a" stroke-width="6" stroke-linecap="butt" stroke-linejoin="round"/>
<rect x="323.8" y="1108.5" width="6" height="10" rx="1.5" fill="#fff" stroke="#1c1c1c" stroke-width="1.1"/>
<line x1="323.8" y1="1112.5" x2="329.8" y2="1112.5" stroke="#1c1c1c" stroke-width="0.8"/>
<rect x="437.8" y="1200.5" width="6" height="10" rx="1.5" fill="#fff" stroke="#1c1c1c" stroke-width="1.1"/>
<line x1="437.8" y1="1204.5" x2="443.8" y2="1204.5" stroke="#1c1c1c" stroke-width="0.8"/>
<rect x="431.7" y="1161.4" width="9" height="3.6" fill="#1a1a1a"/>
<polygon points="474.8,1159.6 474.8,1168.3 458.6,1168.3 458.4,1174.1 447.0,1164.0 458.4,1153.8 458.6,1159.6" fill="#1a1a1a" />
<path d="M608.7,1008 L608.7,1150 C609,1172 622,1190 646,1196.5 C660,1199.5 680,1202 697.6,1202.5 C712,1203 722,1190 723.4,1163 L723.4,1047" fill="none" stroke="#1a1a1a" stroke-width="6" stroke-linecap="butt" stroke-linejoin="round"/>
<rect x="605.7" y="1002.5" width="6" height="9" rx="1.5" fill="#fff" stroke="#1c1c1c" stroke-width="1.1"/>
<line x1="605.7" y1="1006.1" x2="611.7" y2="1006.1" stroke="#1c1c1c" stroke-width="0.8"/>
<rect x="720.4" y="1039.5" width="6" height="9" rx="1.5" fill="#fff" stroke="#1c1c1c" stroke-width="1.1"/>
<line x1="720.4" y1="1043.1" x2="726.4" y2="1043.1" stroke="#1c1c1c" stroke-width="0.8"/>
<rect x="713.4" y="1084" width="10" height="3.4" fill="#1a1a1a"/>
<rect x="712" y="1160" width="10" height="3.4" fill="#1a1a1a"/>
<rect x="608.7" y="1144" width="7" height="3.4" fill="#1a1a1a"/>
<polygon points="755.0,1079.7 755.0,1089.8 739.2,1089.8 739.2,1095.5 727.7,1085.5 739.2,1075.4 739.2,1079.7" fill="#1a1a1a" />
<polygon points="574.3,1141.4 574.3,1150.0 591.5,1150.0 591.5,1155.7 603.0,1145.7 591.5,1135.7 591.5,1141.4" fill="#1a1a1a" />
<polygon points="756.4,1157.2 756.4,1165.8 740.6,1165.8 740.6,1171.5 729.2,1161.5 740.6,1151.4 740.6,1157.2" fill="#1a1a1a" />
</svg></body></html>
